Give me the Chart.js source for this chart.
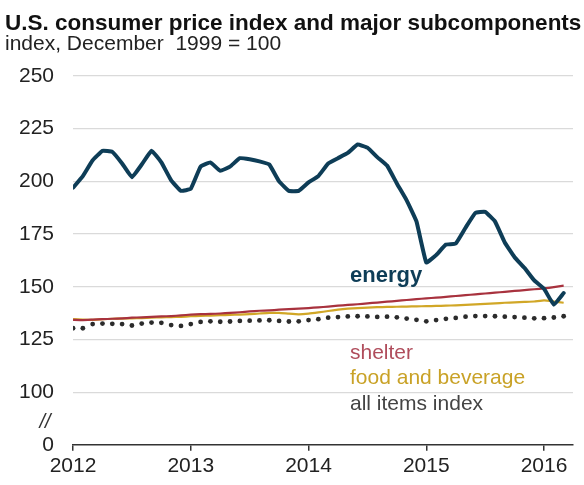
<!DOCTYPE html>
<html>
<head>
<meta charset="utf-8">
<script src="https://cdn.jsdelivr.net/npm/chart.js@4.4.1/dist/chart.umd.min.js"></script>
<style>
  body { margin: 0; background: #fff; }
  #wrap { width: 584px; height: 485px; position: relative; }
</style>
</head>
<body>
<div id="wrap"><canvas id="cpiChart"></canvas></div>
<script>
// monthly values, Jan 2012 .. Mar 2016
const startYear = 2012;
const energy = [
  197, 202.5, 210, 214.5, 214, 208.5, 202, 208, 214.5, 209, 200.5, 195.5,
  196.5, 207, 209, 205, 207, 211, 210.5, 209.5, 208, 200, 195.5, 195.5,
  199.5, 202.5, 208.5, 211, 213.5, 217.5, 216, 211.5, 207.5, 199, 191, 181,
  161.5, 165, 170, 170.5, 178, 185, 185.5, 181, 171, 164, 159, 153,
  149, 141.5, 147
];
const shelter = [
  134.3, 134.2, 134.4, 134.6, 134.8, 135.0, 135.3, 135.5, 135.7, 135.9, 136.1, 136.4,
  136.8, 137.0, 137.1, 137.3, 137.6, 137.9, 138.3, 138.6, 138.8, 139.1, 139.4, 139.6,
  139.9, 140.2, 140.6, 141.0, 141.4, 141.7, 142.1, 142.5, 142.9, 143.3, 143.7, 144.1,
  144.5, 144.8, 145.2, 145.6, 146.0, 146.4, 146.8, 147.2, 147.6, 148.0, 148.4, 148.8,
  149.2, 149.8, 150.5
];
const foodBeverage = [
  134.6, 134.4, 134.3, 134.6, 134.8, 134.9, 135.0, 135.1, 135.3, 135.5, 135.6, 135.7,
  136.0, 136.2, 136.3, 136.5, 136.6, 136.8, 137.0, 137.3, 137.6, 137.6, 137.2, 136.9,
  137.2, 137.8, 138.5, 139.1, 139.6, 139.9, 140.1, 140.3, 140.4, 140.5, 140.6, 140.7,
  140.8, 140.9, 141.0, 141.2, 141.4, 141.6, 141.9, 142.1, 142.4, 142.6, 142.8, 143.0,
  143.5, 143.0, 142.4
];
const allItems = [
  130.3, 130.3, 132.3, 132.5, 132.4, 132.3, 131.6, 132.5, 133.0, 132.9, 131.8, 131.4,
  132.3, 133.3, 133.6, 133.4, 133.5, 133.8, 133.9, 134.0, 134.1, 133.8, 133.5, 133.6,
  134.2, 134.6, 135.3, 135.6, 135.9, 136.0, 135.9, 135.7, 135.8, 135.5, 134.9, 134.3,
  133.6, 134.2, 134.8, 135.2, 135.8, 136.1, 136.1, 136.0, 135.8, 135.6, 135.3, 135.0,
  135.1, 135.4, 136.0
];
const yearTicks = [2012, 2013, 2014, 2015, 2016];
const yTicks = [75, 100, 125, 150, 175, 200, 225, 250]; // 75 is drawn as the broken "0"

const toPoints = (arr) => arr.map((v, i) => ({ x: startYear + i / 12, y: v }));
const FONT = "'Liberation Sans', Arial, sans-serif";

const textPlugin = {
  id: 'texts',
  afterDraw(chart) {
    const ctx = chart.ctx;
    ctx.save();
    ctx.textBaseline = 'alphabetic';
    ctx.textAlign = 'left';
    ctx.fillStyle = '#111';
    ctx.font = 'bold 22.5px ' + FONT;
    ctx.fillText('U.S. consumer price index and major subcomponents', 5, 30);
    ctx.font = '21px ' + FONT;
    ctx.fillStyle = '#222';
    ctx.fillText('index, December  1999 = 100', 5, 50);

    ctx.font = 'bold 22px ' + FONT;
    ctx.fillStyle = '#0e3d57';
    ctx.fillText('energy', 350, 282);
    ctx.font = '21px ' + FONT;
    ctx.fillStyle = '#b04d5c';
    ctx.fillText('shelter', 350, 359);
    ctx.fillStyle = '#c9a227';
    ctx.fillText('food and beverage', 350, 384);
    ctx.fillStyle = '#444';
    ctx.fillText('all items index', 350, 410);

    // axis break mark
    ctx.fillStyle = '#333';
    ctx.font = 'italic 20px ' + FONT;
    ctx.textAlign = 'center';
    ctx.fillText('//', 45, 428);
    ctx.restore();
  }
};

new Chart(document.getElementById('cpiChart'), {
  type: 'line',
  data: {
    datasets: [
      {
        label: 'energy',
        data: toPoints(energy),
        borderColor: '#0e3d57',
        borderWidth: 4,
        pointRadius: 0,
        tension: 0.1,
        borderJoinStyle: 'round',
        borderCapStyle: 'round'
      },
      {
        label: 'shelter',
        data: toPoints(shelter),
        borderColor: '#a8323e',
        borderWidth: 2.2,
        pointRadius: 0,
        tension: 0.1
      },
      {
        label: 'food and beverage',
        data: toPoints(foodBeverage),
        borderColor: '#d1a727',
        borderWidth: 2.2,
        pointRadius: 0,
        tension: 0.1
      },
      {
        label: 'all items index',
        data: toPoints(allItems),
        showLine: false,
        pointRadius: 2.4,
        pointBackgroundColor: '#2b2b2b',
        pointBorderWidth: 0
      }
    ]
  },
  options: {
    responsive: true,
    maintainAspectRatio: false,
    animation: false,
    layout: { padding: { top: 76, left: 0, right: 11, bottom: 3 } },
    plugins: {
      legend: { display: false },
      tooltip: { enabled: false }
    },
    scales: {
      x: {
        type: 'linear',
        min: 2012,
        max: 2016.246,
        afterBuildTicks: (axis) => { axis.ticks = yearTicks.map(v => ({ value: v })); },
        ticks: {
          callback: (v) => String(v),
          font: { family: FONT, size: 21 },
          color: '#222',
          padding: 3,
          maxRotation: 0
        },
        grid: { drawOnChartArea: false, drawTicks: true, tickLength: 6, color: '#333', lineWidth: 1.5 },
        border: { color: '#333', width: 1.5 }
      },
      y: {
        min: 75,
        max: 250,
        afterBuildTicks: (axis) => { axis.ticks = yTicks.map(v => ({ value: v })); },
        ticks: {
          callback: (v) => (v === 75 ? '0' : String(v)),
          font: { family: FONT, size: 21 },
          color: '#222',
          padding: 19
        },
        grid: {
          drawTicks: false,
          color: (c) => (c.tick && c.tick.value === 75 ? 'rgba(0,0,0,0)' : '#dadada'),
          lineWidth: 1.2
        },
        border: { display: false }
      }
    }
  },
  plugins: [textPlugin]
});
</script>
</body>
</html>
